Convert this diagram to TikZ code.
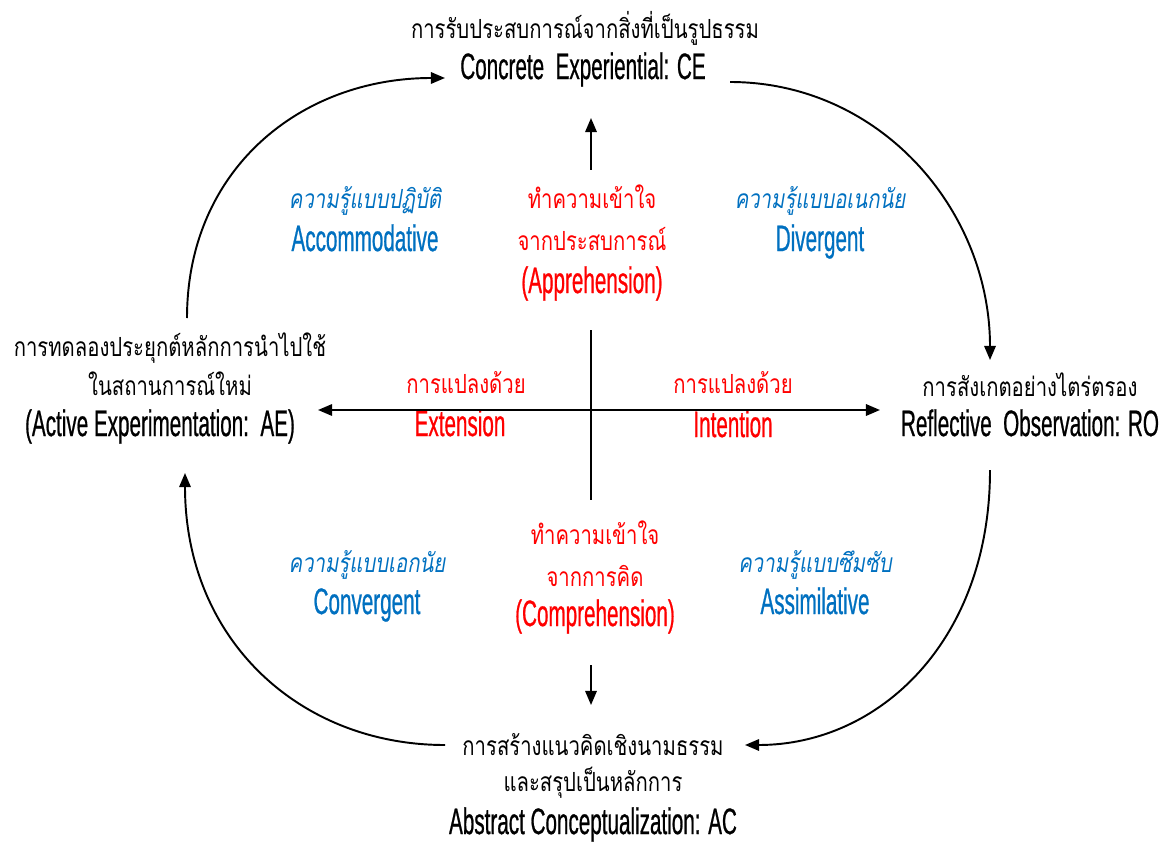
\documentclass[tikz,border=0pt]{standalone}
\usepackage{fontspec}
\setmainfont[Script=Thai]{Loma}
\newfontfamily\thaifont[Script=Thai,FakeStretch=0.77]{Loma}
\newfontfamily\condfont[FakeStretch=0.56,FakeBold=0.6]{Liberation Sans}
\usetikzlibrary{arrows.meta}
\definecolor{kblue}{RGB}{0,112,192}
\definecolor{kred}{RGB}{255,0,0}

\begin{document}
\begin{tikzpicture}[
	x=0.02cm, y=-0.02cm,
	> = {Triangle[length=8pt, width=6.5pt]},
	line width=1.1pt,
	th/.style = {inner sep=0pt, text height=10pt, text depth=3pt, yshift=-2.3pt,
		font=\thaifont\fontsize{15pt}{18pt}\selectfont},
	en/.style = {inner sep=0pt, text height=11pt, text depth=3pt, yshift=-2.3pt,
		font=\condfont\fontsize{21pt}{24pt}\selectfont},
	thi/.style = {th, kblue, font=\thaifont\itshape\fontsize{15pt}{18pt}\selectfont},
	enb/.style = {en, kblue},
	thr/.style = {th, kred},
	enr/.style = {en, kred},
	cyc/.style = {->},
	]
	\useasboundingbox (0,0) rectangle (1165,841);
	% four stages
	\node[th] (ce-th) at (585,28) {การรับประสบการณ์จากสิ่งที่เป็นรูปธรรม};
	\node[en] (ce) at (583,68) {Concrete\ \ Experiential: CE};
	\node[th] (ro-th) at (1030,386) {การสังเกตอย่างไตร่ตรอง};
	\node[en] (ro) at (1030,425) {Reflective\ \ Observation: RO};
	\node[th] (ac-th1) at (593,745) {การสร้างแนวคิดเชิงนามธรรม};
	\node[th] (ac-th2) at (593,781) {และสรุปเป็นหลักการ};
	\node[en] (ac) at (593,823) {Abstract Conceptualization: AC};
	\node[th] (ae-th1) at (170,346) {การทดลองประยุกต์หลักการนำไปใช้};
	\node[th] (ae-th2) at (170,385) {ในสถานการณ์ใหม่};
	\node[en] (ae) at (160,425) {(Active Experimentation:\ \ AE)};
	% knowledge types
	\node[thi] (acc-th) at (365,198) {ความรู้แบบปฏิบัติ};
	\node[enb] (acc) at (365,240) {Accommodative};
	\node[thi] (div-th) at (820,198) {ความรู้แบบอเนกนัย};
	\node[enb] (div) at (820,240) {Divergent};
	\node[thi] (con-th) at (367,562) {ความรู้แบบเอกนัย};
	\node[enb] (con) at (367,603) {Convergent};
	\node[thi] (ass-th) at (815,562) {ความรู้แบบซึมซับ};
	\node[enb] (ass) at (815,603) {Assimilative};
	% grasping and transforming
	\node[thr] (app-th1) at (592,198) {ทำความเข้าใจ};
	\node[thr] (app-th2) at (592,240) {จากประสบการณ์};
	\node[enr] (app) at (592,282) {(Apprehension)};
	\node[thr] (com-th1) at (595,534) {ทำความเข้าใจ};
	\node[thr] (com-th2) at (595,576) {จากการคิด};
	\node[enr] (com) at (595,615) {(Comprehension)};
	\node[thr] (ext-th) at (466,383) {การแปลงด้วย};
	\node[enr] (ext) at (460,425) {Extension};
	\node[thr] (int-th) at (733,383) {การแปลงด้วย};
	\node[enr] (int) at (733,426) {Intention};
	% arrow ends
	\coordinate (ae-out) at (187,318);
	\coordinate (ce-in) at (445,78);
	\coordinate (ce-out) at (730,82);
	\coordinate (ro-in) at (990,360);
	\coordinate (ro-out) at (990,470);
	\coordinate (ac-in) at (745,745);
	\coordinate (ac-out) at (445,745);
	\coordinate (ae-in) at (185,473);
	\coordinate (h-l) at (318,410);
	\coordinate (h-r) at (880,410);
	\coordinate (v-t) at (591,330);
	\coordinate (v-b) at (591,500);
	\coordinate (up-s) at (591,170);
	\coordinate (up-e) at (591,118);
	\coordinate (dn-s) at (591,665);
	\coordinate (dn-e) at (591,705);
	% cycle
	\draw[cyc] (ae-out) .. controls (187,170) and (300,78) .. (ce-in);
	\draw[cyc] (ce-out) .. controls (880,82) and (990,210) .. (ro-in);
	\draw[cyc] (ro-out) .. controls (990,640) and (880,745) .. (ac-in);
	\draw[cyc] (ac-out) .. controls (300,745) and (185,640) .. (ae-in);
	% axes
	\draw[<->] (h-l) -- (h-r);
	\draw (v-t) -- (v-b);
	\draw[->] (up-s) -- (up-e);
	\draw[->] (dn-s) -- (dn-e);
\end{tikzpicture}
\end{document}
